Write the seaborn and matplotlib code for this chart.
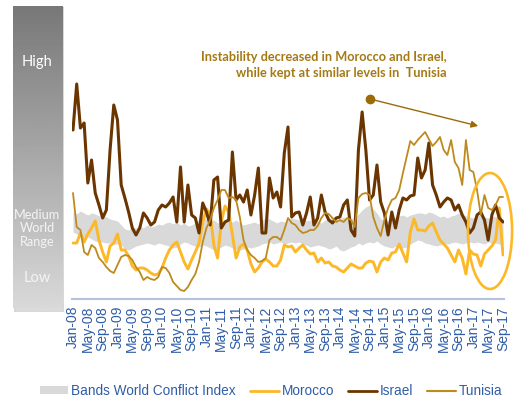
import numpy as np
import pandas as pd
import matplotlib
matplotlib.use("Agg")
import matplotlib.pyplot as plt
import seaborn as sns
from matplotlib.patches import Ellipse, Patch, Rectangle
from matplotlib.lines import Line2D

# Monthly observations, Jan 2008 - Sep 2017
months = pd.date_range("2008-01-01", "2017-09-01", freq="MS")
tick_labels = [d.strftime("%b-%y") for d in months[::4]]

morocco = [
    56, 56, 66, 57, 65, 71, 78, 59, 47, 37, 53, 56,
    65, 49, 49, 43, 33, 29, 31, 31, 29, 26, 24, 25,
    31, 41, 49, 54, 57, 47, 37, 30, 39, 47, 56, 77,
    90, 85, 54, 41, 77, 93, 87, 64, 41, 52, 55, 49,
    35, 27, 31, 37, 40, 37, 33, 33, 39, 54, 52, 53,
    47, 51, 54, 49, 45, 46, 37, 41, 36, 37, 33, 32,
    29, 27, 31, 35, 33, 31, 31, 36, 38, 37, 27, 37,
    41, 39, 46, 47, 55, 46, 37, 67, 80, 69, 69, 68,
    73, 76, 67, 59, 55, 51, 44, 37, 49, 41, 25, 49,
    45, 44, 33, 45, 49, 53, 59, 91, 44,
]
israel = [
    169, 215, 171, 176, 116, 139, 106, 94, 81, 89, 149, 194,
    179, 114, 101, 87, 71, 64, 71, 86, 81, 74, 77, 89,
    94, 92, 96, 102, 77, 132, 77, 114, 84, 81, 66, 96,
    87, 74, 119, 122, 71, 77, 79, 147, 99, 104, 97, 109,
    84, 104, 131, 66, 66, 121, 101, 107, 92, 146, 172, 82,
    86, 87, 74, 86, 102, 74, 81, 104, 87, 79, 76, 81,
    82, 94, 99, 69, 63, 149, 187, 149, 99, 104, 134, 97,
    86, 64, 87, 71, 89, 101, 99, 103, 104, 141, 121, 129,
    156, 114, 104, 92, 97, 101, 99, 89, 94, 84, 77, 66,
    71, 84, 87, 79, 59, 84, 94, 81, 77,
]
tunisia = [
    106, 72, 69, 47, 44, 54, 51, 41, 37, 32, 28, 26,
    34, 42, 44, 43, 39, 32, 27, 19, 22, 20, 19, 22,
    32, 31, 26, 17, 13, 9, 8, 12, 19, 25, 37, 57,
    71, 79, 91, 99, 109, 109, 101, 102, 99, 82, 59, 49,
    44, 41, 37, 38, 41, 59, 62, 62, 59, 69, 81, 76,
    74, 69, 66, 67, 69, 69, 73, 81, 86, 85, 81, 77,
    79, 77, 81, 79, 72, 101, 105, 106, 104, 82, 71, 63,
    79, 91, 99, 101, 109, 126, 142, 158, 154, 159, 163, 167,
    160, 153, 157, 162, 149, 144, 159, 137, 131, 114, 159, 129,
    127, 109, 84, 104, 91, 89, 94, 102, 102,
]
band_high = [
    87, 85, 88, 86, 84, 86, 85, 83, 84, 82, 80, 79,
    78, 74, 70, 69, 72, 71, 73, 71, 74, 72, 73, 75,
    74, 76, 77, 75, 77, 74, 76, 73, 74, 76, 79, 81,
    80, 78, 79, 76, 77, 79, 78, 77, 79, 76, 74, 75,
    76, 77, 75, 79, 81, 80, 78, 76, 78, 77, 79, 81,
    80, 79, 81, 78, 79, 77, 78, 76, 79, 80, 82, 79,
    80, 82, 81, 80, 82, 85, 89, 92, 94, 90, 86, 80,
    79, 78, 80, 82, 83, 84, 82, 84, 85, 86, 86, 85,
    87, 86, 84, 82, 83, 81, 83, 84, 86, 85, 83, 82,
    81, 83, 84, 82, 81, 83, 82, 81, 80,
]
band_low = [
    67, 65, 64, 62, 62, 60, 58, 57, 57, 56, 56, 55,
    55, 54, 50, 49, 51, 53, 54, 55, 56, 55, 54, 56,
    55, 54, 53, 51, 52, 55, 57, 56, 54, 53, 52, 54,
    53, 51, 49, 50, 52, 54, 53, 51, 50, 49, 50, 52,
    51, 52, 53, 55, 56, 57, 55, 56, 57, 55, 56, 57,
    56, 57, 55, 54, 52, 53, 54, 53, 52, 50, 51, 53,
    49, 48, 50, 52, 53, 56, 54, 56, 57, 56, 58, 55,
    53, 52, 51, 53, 52, 51, 52, 55, 57, 59, 58, 56,
    55, 54, 53, 54, 55, 55, 56, 57, 56, 55, 56, 57,
    56, 57, 56, 55, 57, 56, 56, 55, 55,
]

df = pd.DataFrame({
    "t": np.arange(len(months)),
    "Morocco": morocco,
    "Israel": israel,
    "Tunisia": tunisia,
    "low": band_low,
    "high": band_high,
})

C_MOR = "#FDB827"
C_ISR = "#6B3500"
C_TUN = "#BE8A1E"
C_BAND = "#D9D9D9"
C_TXT = "#2F5DA8"
C_NOTE = "#A57A14"

sns.set_theme(style="white")
plt.rcParams["font.family"] = ["Liberation Sans", "DejaVu Sans"]

W, H = 517, 401
fig = plt.figure(figsize=(W / 100, H / 100), dpi=100)

# main plotting area
ax = fig.add_axes([72 / W, 1 - 299 / H, (504 - 72) / W, (299 - 6) / H])
ax.fill_between(df["t"], df["low"], df["high"], color=C_BAND, lw=0, zorder=1)
sns.lineplot(data=df, x="t", y="Morocco", ax=ax, color=C_MOR, lw=2.1, zorder=3)
sns.lineplot(data=df, x="t", y="Israel", ax=ax, color=C_ISR, lw=2.2, zorder=4)
sns.lineplot(data=df, x="t", y="Tunisia", ax=ax, color=C_TUN, lw=1.3, zorder=5)

ax.set_xlim(-0.27, len(months) - 1 + 0.27)
ax.set_ylim(0, 293)
ax.set_yticks([])
ax.set_xlabel("")
ax.set_ylabel("")
ax.set_xticks(np.arange(0, len(months), 4))
ax.set_xticklabels(tick_labels, rotation=90, fontsize=10, color=C_TXT)
ax.tick_params(axis="x", length=0, pad=5)
for s in ["left", "right", "top"]:
    ax.spines[s].set_visible(False)
ax.spines["bottom"].set_color("#B4C2DE")
ax.spines["bottom"].set_linewidth(1.5)
ax.patch.set_alpha(0)

# highlighted recent period
ax.add_patch(Ellipse((112.5, 68), 11.9, 116, fill=False, ec="#FDB827",
                     lw=1.9, zorder=6, clip_on=False))

# trend arrow
ax.annotate("", xy=(109.3, 173), xytext=(80.1, 200),
            arrowprops=dict(arrowstyle="-|>", color="#9C6A06", lw=1.0,
                            mutation_scale=10, shrinkA=0, shrinkB=0),
            zorder=6)
ax.plot([80.1], [200], "o", color="#9C6A06", ms=6, zorder=6)

fig.text(447 / W, 1 - 57 / H, "Instability decreased in Morocco and Israel,",
         ha="right", va="center", fontsize=9.2, fontweight="bold", color=C_NOTE,
         family=["Lato", "DejaVu Sans"])
fig.text(447 / W, 1 - 73 / H, "while kept at similar levels in  Tunisia",
         ha="right", va="center", fontsize=9.2, fontweight="bold", color=C_NOTE,
         family=["Lato", "DejaVu Sans"])

# graded scale bar on the left
shadow = fig.add_axes([14 / W, 1 - 312 / H, 50 / W, 305 / H])
shadow.add_patch(Rectangle((0, 0), 1, 1, color="#BFBFBF", alpha=0.55))
shadow.set_axis_off()
bar = fig.add_axes([13 / W, 1 - 308 / H, 49 / W, 302 / H])
grad = np.linspace(0.47, 0.85, 256).reshape(-1, 1)
bar.imshow(grad, cmap="gray", vmin=0, vmax=1, aspect="auto",
           extent=(0, 1, 0, 1))
bar.set_axis_off()
fig.text(37 / W, 1 - 62 / H, "High", ha="center", va="center", color="white",
         fontsize=10.5, family=["Lato", "DejaVu Sans"])
for txt, yy in [("Medium", 215), ("World", 228), ("Range", 242)]:
    fig.text(37 / W, 1 - yy / H, txt, ha="center", va="center", color="#F4F4F4",
             fontsize=9.2, family=["Lato", "DejaVu Sans"])
fig.text(37 / W, 1 - 278 / H, "Low", ha="center", va="center", color="#F4F4F4",
         fontsize=10.5, family=["Lato", "DejaVu Sans"])

handles = [
    Patch(facecolor=C_BAND, edgecolor="none"),
    Line2D([], [], color=C_MOR, lw=2.0),
    Line2D([], [], color=C_ISR, lw=2.0),
    Line2D([], [], color=C_TUN, lw=1.5),
]
labels = ["Bands World Conflict Index", "Morocco", "Israel", "Tunisia"]
leg = fig.legend(handles, labels, loc="center", ncol=4,
                 bbox_to_anchor=(271 / W, 1 - 391 / H), frameon=False,
                 fontsize=9.8, handlelength=2.1, handleheight=0.55,
                 handletextpad=0.2, columnspacing=1.05, borderpad=0)
for t in leg.get_texts():
    t.set_color(C_TXT)

fig.savefig("out.png", dpi=100)
